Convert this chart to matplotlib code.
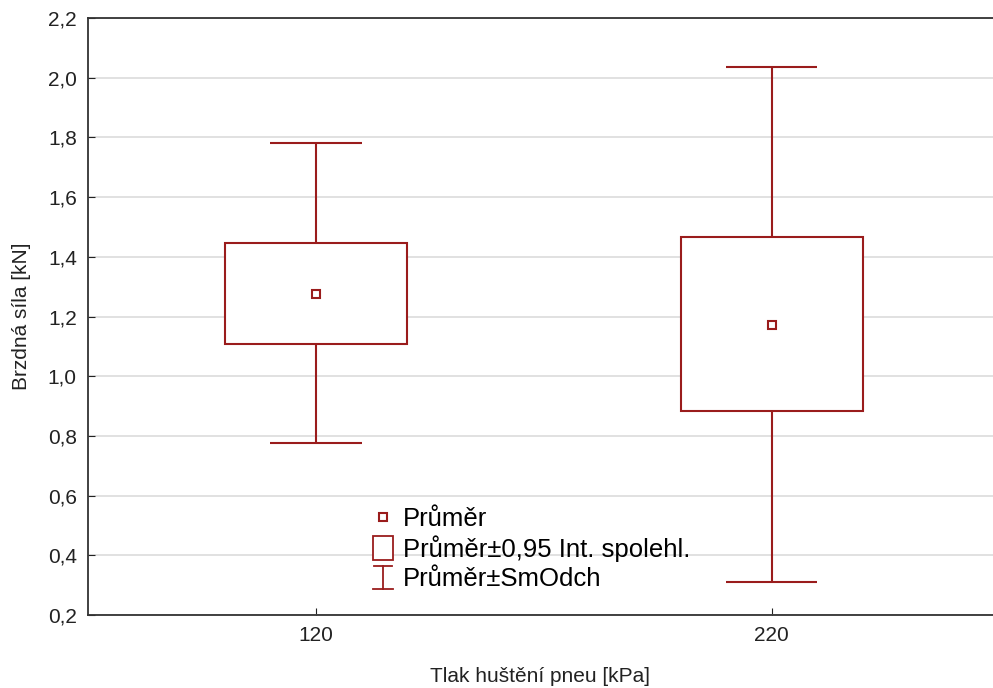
import matplotlib.pyplot as plt
from matplotlib.lines import Line2D
from matplotlib.legend_handler import HandlerBase
from matplotlib.patches import Rectangle
from matplotlib.ticker import FuncFormatter

plt.rcParams['font.family'] = ['Liberation Sans', 'DejaVu Sans']

categories = ['120', '220']
means = [1.275, 1.173]
ci_low = [1.107, 0.885]
ci_high = [1.446, 1.466]
sd_low = [0.776, 0.309]
sd_high = [1.781, 2.036]
y_ticks = [0.2, 0.4, 0.6, 0.8, 1.0, 1.2, 1.4, 1.6, 1.8, 2.0, 2.2]
legend_labels = ['Průměr', 'Průměr±0,95 Int. spolehl.', 'Průměr±SmOdch']

red = '#9a1c1c'


class HandlerIBar(HandlerBase):
    def create_artists(self, legend, orig_handle, xdescent, ydescent,
                       width, height, fontsize, trans):
        cx = width / 2 - xdescent
        cy = height / 2 - ydescent
        top = cy + 8.0
        bot = cy - 8.6
        w = 6.6
        arts = [
            Line2D([cx, cx], [bot, top], color=red, lw=1.3),
            Line2D([cx - w, cx + w], [top, top], color=red, lw=1.3),
            Line2D([cx - w - 0.6, cx + w + 0.6], [bot, bot], color=red, lw=1.3),
        ]
        for a in arts:
            a.set_transform(trans)
        return arts


class HandlerBigBox(HandlerBase):
    def create_artists(self, legend, orig_handle, xdescent, ydescent,
                       width, height, fontsize, trans):
        cx = width / 2 - xdescent
        cy = height / 2 - ydescent
        r = Rectangle((cx - 7.2, cy - 8.6), 14.4, 17.3, facecolor='white',
                      edgecolor=red, lw=1.3, transform=trans)
        return [r]


fig = plt.figure(figsize=(9.93, 6.88), dpi=100)
ax = fig.add_axes([0.0886, 0.1061, 0.9114, 0.8677])

x = list(range(len(categories)))

# whiskers (mean +- SD)
ax.vlines(x, sd_low, sd_high, color=red, lw=1.5, zorder=2)
ax.hlines(sd_low, [i - 0.1 for i in x], [i + 0.1 for i in x], color=red, lw=1.5, zorder=2)
ax.hlines(sd_high, [i - 0.1 for i in x], [i + 0.1 for i in x], color=red, lw=1.5, zorder=2)

# boxes (95% CI)
heights = [h - l for h, l in zip(ci_high, ci_low)]
ax.bar(x, heights, bottom=ci_low, width=0.4, facecolor='white',
       edgecolor=red, linewidth=1.5, zorder=3)

# means
ax.plot(x, means, linestyle='none', marker='s', markersize=5.5,
        markerfacecolor='white', markeredgecolor=red, markeredgewidth=1.5, zorder=4)

ax.set_xlim(-0.5, 1.485)
ax.set_ylim(0.2, 2.2)
ax.set_xticks(x)
ax.set_xticklabels(categories)
ax.set_yticks(y_ticks)
ax.yaxis.set_major_formatter(FuncFormatter(lambda v, p: f'{v:.1f}'.replace('.', ',')))
ax.tick_params(direction='in', length=5, labelsize=15, colors='#222222', pad=8)
ax.grid(axis='y', color='#dcdcdc', lw=1.2, zorder=0)
ax.set_axisbelow(True)

for s in ['left', 'bottom', 'top']:
    ax.spines[s].set_color('#333333')
    ax.spines[s].set_linewidth(1.3)
ax.spines['right'].set_visible(False)

ax.set_ylabel('Brzdná síla [kN]', fontsize=15, color='#222222', labelpad=12)
ax.set_xlabel('Tlak huštění pneu [kPa]', fontsize=15, color='#222222', labelpad=16)

h_mean = Line2D([], [], linestyle='none', marker='s', markersize=5.5,
                markerfacecolor='white', markeredgecolor=red, markeredgewidth=1.5)
h_box = object()
h_bar = object()
ax.legend([h_mean, h_box, h_bar], legend_labels,
          handler_map={h_box: HandlerBigBox(), h_bar: HandlerIBar()},
          loc='upper left', bbox_to_anchor=(0.3116, 0.181), frameon=False,
          fontsize=18.5, handlelength=1.0, handletextpad=0.28, labelspacing=0.18,
          borderaxespad=0, borderpad=0)

fig.savefig('out.png', dpi=100)
